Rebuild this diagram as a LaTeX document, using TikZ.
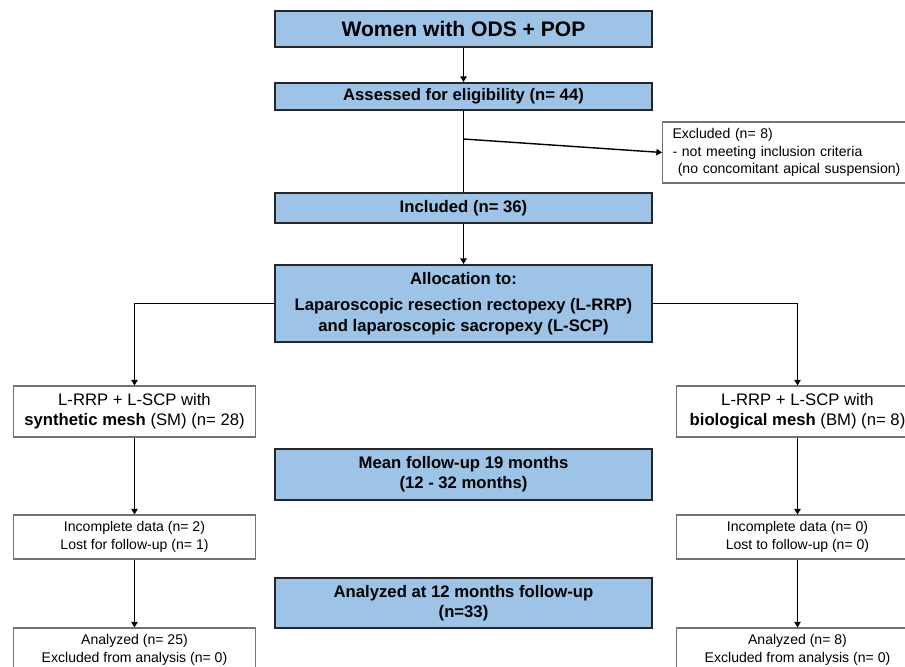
\documentclass[tikz,border=0pt]{standalone}
\usepackage{fontspec}
\setmainfont{Liberation Sans}
\usepackage{tikz}
\usetikzlibrary{arrows.meta}
\definecolor{boxblue}{RGB}{157,195,230}
\tikzstyle{stage} = [draw=black!85, line width=1.1pt, fill=boxblue, minimum width=7.54cm, align=center, inner sep=0pt, font=\bfseries\fontsize{9.5}{11.3}\selectfont]
\tikzstyle{arm} = [draw=black!55, line width=0.6pt, fill=white, minimum width=4.84cm, align=center, inner sep=0pt, font=\fontsize{8}{9.9}\selectfont]
\tikzstyle{note} = [arm, anchor=west, align=left, minimum width=0pt, text width=4.66cm, inner xsep=0.2cm]

\begin{document}
\begin{tikzpicture}[x=0.02cm, y=-0.02cm, line width=0.8pt, >={Triangle[length=3.2pt,width=3.6pt]}]
	  \useasboundingbox (0,0) rectangle (905,666);
	  \clip (0,0) rectangle (905,666);

	  \node (a) at (463.5,29) [stage, minimum height=0.72cm, font=\bfseries\fontsize{12}{14}\selectfont] {Women with ODS + POP};
	  \node (b) at (463.5,96.5) [stage, minimum height=0.54cm] {Assessed for eligibility (n= 44)};
	  \node (c) at (662,152.5) [note, minimum height=1.22cm] {Excluded (n= 8)\\- not meeting inclusion criteria\\\hspace*{3pt}(no concomitant apical suspension)};
	  \node (d) at (463.5,208) [stage, minimum height=0.6cm] {Included (n= 36)};
	  \node (e) at (463.5,303.5) [stage, minimum height=1.54cm, font=\bfseries\fontsize{9.5}{12}\selectfont] {Allocation to:\\[3pt]Laparoscopic resection rectopexy (L-RRP)\\and laparoscopic sacropexy (L-SCP)};
	  \node (f) at (134.5,411.5) [arm, minimum height=1.02cm, font=\fontsize{9.5}{11.3}\selectfont] {L-RRP + L-SCP with\\\textbf{synthetic mesh} (SM) (n= 28)};
	  \node (g) at (797.5,411.5) [arm, minimum height=1.02cm, font=\fontsize{9.5}{11.3}\selectfont] {L-RRP + L-SCP with\\\textbf{biological mesh} (BM) (n= 8)};
	  \node (h) at (463.5,474.5) [stage, minimum height=1.02cm] {Mean follow-up 19 months\\(12 - 32 months)};
	  \node (i) at (134.5,537) [arm, minimum height=0.88cm] {Incomplete data (n= 2)\\Lost for follow-up (n= 1)};
	  \node (j) at (797.5,537) [arm, minimum height=0.88cm] {Incomplete data (n= 0)\\Lost to follow-up (n= 0)};
	  \node (k) at (463.5,603) [stage, minimum height=1cm] {Analyzed at 12 months follow-up\\(n=33)};
	  \node (l) at (134.5,650) [arm, minimum height=0.88cm] {Analyzed (n= 25)\\Excluded from analysis (n= 0)};
	  \node (m) at (797.5,650) [arm, minimum height=0.88cm] {Analyzed (n= 8)\\Excluded from analysis (n= 0)};
	  \coordinate (s) at (463.5,139);

	  \draw [->] (a) to (b);
	  \draw (b) to (d);
	  \draw [->] (s) to (c.west);
	  \draw [->] (d) to (e);
	  \draw [->] (e.west) -| (f.north);
	  \draw [->] (e.east) -| (g.north);
	  \draw [->] (f) to (i);
	  \draw [->] (i) to (l);
	  \draw [->] (g) to (j);
	  \draw [->] (j) to (m);
	\end{tikzpicture}
\end{document}
